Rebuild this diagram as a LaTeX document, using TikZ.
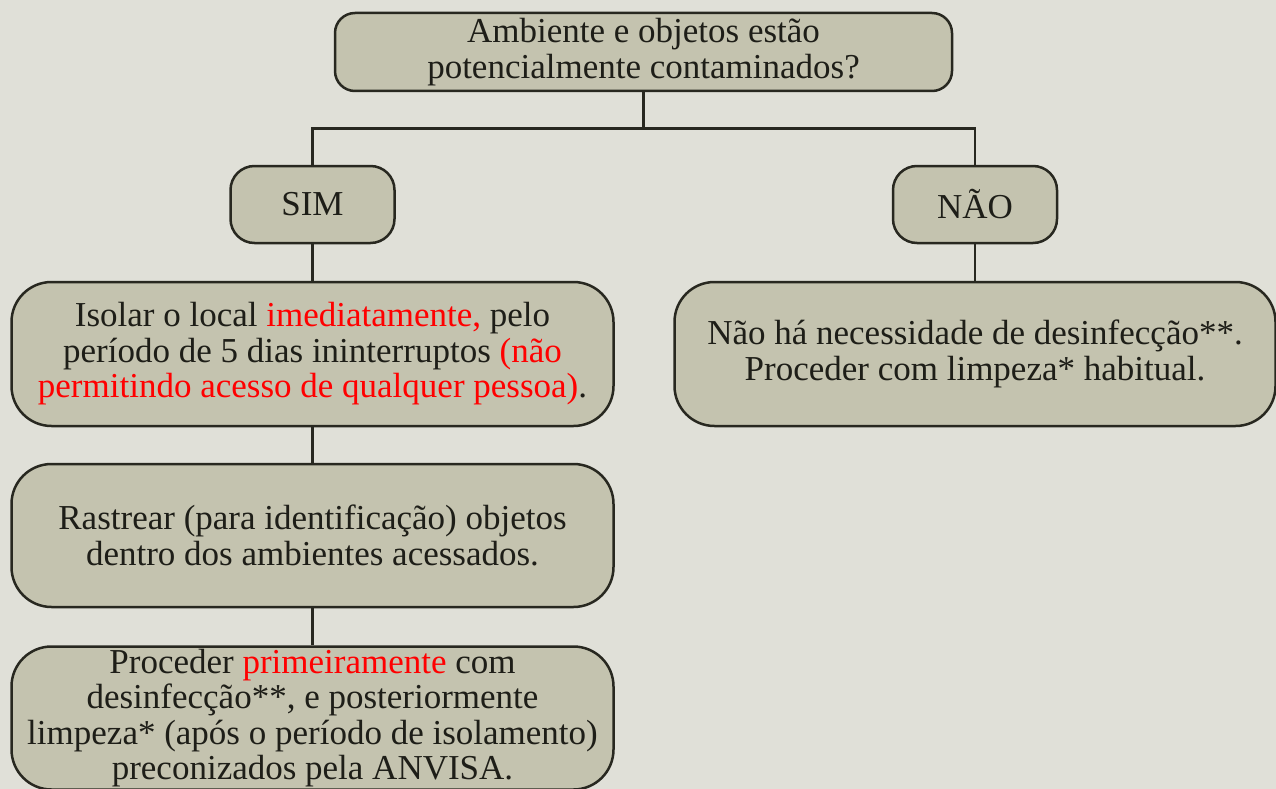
\documentclass[tikz,border=0pt]{standalone}
\usepackage{fontspec}
\setmainfont{Liberation Serif}
\definecolor{bgc}{RGB}{224,224,216}
\definecolor{boxc}{RGB}{196,195,175}
\definecolor{linec}{RGB}{40,40,32}
\definecolor{txtc}{RGB}{30,30,24}
\definecolor{redc}{RGB}{255,0,0}
\begin{document}
\begin{tikzpicture}[x=1pt,y=-1pt,
  box/.style={draw=linec,fill=boxc,line width=2.5pt,align=center,text=txtc,
    font=\fontsize{35}{35.5}\selectfont,inner sep=0pt},
  conn/.style={draw=linec,line width=2.5pt}]
\fill[bgc] (0,0) rectangle (1276,789);
\useasboundingbox (0,0) rectangle (1276,789);
\node[box,rounded corners=20pt,minimum width=617pt,minimum height=78pt] (top) at (643.5,52)
  {Ambiente e objetos estão\\potencialmente contaminados?};
\node[box,rounded corners=24pt,minimum width=164pt,minimum height=77pt] (sim) at (312.5,204.5) {SIM};
\node[box,rounded corners=24pt,minimum width=164pt,minimum height=77pt] (nao) at (975,204.5) {NÃO};
\node[box,rounded corners=40pt,minimum width=602pt,minimum height=144pt] (iso) at (312.5,354)
  {Isolar o local \textcolor{redc}{imediatamente,} pelo\\período de 5 dias ininterruptos \textcolor{redc}{(não}\\\textcolor{redc}{permitindo acesso de qualquer pessoa)}.};
\node[box,rounded corners=40pt,minimum width=602pt,minimum height=143pt] (ras) at (312.5,535.5)
  {Rastrear (para identificação) objetos\\dentro dos ambientes acessados.};
\node[box,rounded corners=40pt,minimum width=602pt,minimum height=143pt] (pro) at (312.5,718)
  {Proceder \textcolor{redc}{primeiramente} com\\desinfecção**, e posteriormente\\limpeza* (após o período de isolamento)\\preconizados pela ANVISA.};
\node[box,rounded corners=40pt,minimum width=601pt,minimum height=144pt] (nh) at (975,354)
  {Não há necessidade de desinfecção**.\\Proceder com limpeza* habitual.};
\coordinate (split) at (643.5,128.5);
\draw[conn] (top.south) -- (split);
\draw[conn] (split) -| (sim.north);
\draw[conn] (split) -| (nao.north);
\draw[conn] (sim.south) -- (iso.north);
\draw[conn] (iso.south) -- (ras.north);
\draw[conn] (ras.south) -- (pro.north);
\draw[conn] (nao.south) -- (nh.north);
\end{tikzpicture}
\end{document}
